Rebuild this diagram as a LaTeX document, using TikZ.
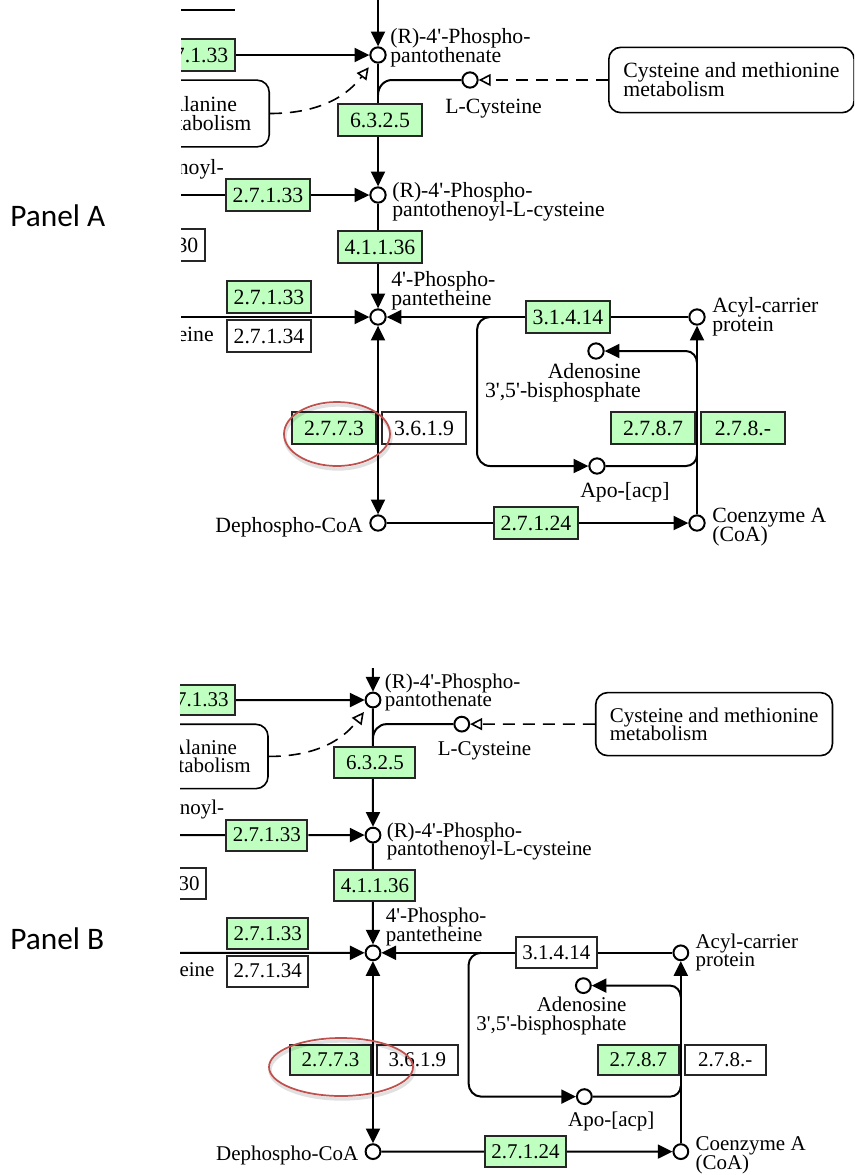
\documentclass[tikz,border=0pt]{standalone}
\usepackage{fontspec}
\setmainfont{Liberation Serif}
\newfontfamily\calib{Carlito}
\usetikzlibrary{arrows.meta,shapes.geometric}
\pgfdeclarelayer{bg}
\pgfsetlayers{bg,main}
\definecolor{kgreen}{RGB}{191,255,191}
\definecolor{kred}{RGB}{192,80,77}
\newcommand\kfont{\fontsize{16.3}{14.25}\selectfont\lineskiplimit=-30pt\lineskip=0pt\relax}
\newcommand\ap{\textquotesingle}
\tikzset{
  ec/.style={draw=black!85, line width=1.5pt, minimum width=63pt, minimum height=24pt, inner sep=0pt, font=\kfont},
  ecg/.style={ec, fill=kgreen},
  ecw/.style={ec, fill=white},
  cpd/.style={circle, draw=black, line width=1.5pt, fill=white, minimum size=11.5pt, inner sep=0pt},
  lbl/.style={font=\kfont, inner sep=0pt, align=left},
  mapbox/.style={draw=black, line width=1.2pt, rounded corners=9pt, fill=white, font=\kfont, align=left, inner sep=0pt},
  conn/.style={line width=1.5pt, draw=black},
  arr/.style={conn, -{Triangle[length=11pt,width=10.5pt]}},
  biarr/.style={conn, {Triangle[length=11pt,width=10.5pt]}-{Triangle[length=11pt,width=10.5pt]}},
  dashline/.style={line width=1.2pt, draw=black, dash pattern=on 9pt off 6pt},
  openarr/.style={dashline, -{Triangle[open,length=9pt,width=9pt,line width=1.2pt]}}
}
% #1 prefix, #2 fill 3.1.4.14, #3 fill 2.7.8.-, #4 clip left, #5 clip top, #6 clip right
\newcommand\drawpanel[6]{%
  \begin{scope}
  \clip (#4,#5) rectangle (#6,600);
  \node[cpd] (#1c1) at (378,55) {};
  \node[cpd] (#1c2) at (378,195) {};
  \node[cpd] (#1c3) at (378,317) {};
  \node[cpd] (#1lcys) at (470,80) {};
  \node[cpd] (#1acp) at (697,317) {};
  \node[cpd] (#1ade) at (596,351) {};
  \node[cpd] (#1apo) at (597,466) {};
  \node[cpd] (#1coa) at (697,523) {};
  \node[cpd] (#1dcoa) at (378,523) {};
  \node[ecg] (#1b1) at (193,55) {2.7.1.33};
  \node[mapbox, minimum width=103pt, minimum height=50pt, anchor=east] (#1alan) at (270,113.5) {β-Alanine\\metabolism};
  \node[ecg] (#1b6325) at (380,120) {6.3.2.5};
  \node[mapbox, anchor=west, minimum width=184pt, minimum height=49pt] (#1cys) at (608,80) {Cysteine and methionine\\metabolism};
  \node[ecg] (#1b2) at (268,195) {2.7.1.33};
  \node[ecw] (#1b30) at (163,245) {2.7.1.30};
  \node[ecg] (#1b4) at (380,247) {4.1.1.36};
  \node[ecg] (#1b5) at (269,297) {2.7.1.33};
  \node[ecw] (#1b6) at (269,336) {2.7.1.34};
  \node[ec, fill=#2] (#1b7) at (568,317) {3.1.4.14};
  \node[ecg] (#1b8) at (653,428) {2.7.8.7};
  \node[ec, fill=#3] (#1b9) at (743,428) {2.7.8.-};
  \node[ecg] (#1b10) at (334,428) {2.7.7.3};
  \node[ecw] (#1b11) at (424,428) {3.6.1.9};
  \node[ecg] (#1b12) at (536,523) {2.7.1.24};
  \node[lbl, anchor=base west] (#1c1l) at (390,62) {(R)-4\ap-Phospho-\\pantothenate};
  \node[lbl, anchor=base west] (#1lcysl) at (445,113) {L-Cysteine};
  \node[lbl, anchor=base west] (#1c2l) at (392,216) {(R)-4\ap-Phospho-\\pantothenoyl-L-cysteine};
  \node[lbl, anchor=base west] (#1c3l) at (391,305) {4\ap-Phospho-\\pantetheine};
  \node[lbl, anchor=base west] (#1acpl) at (712,331) {Acyl-carrier\\protein};
  \node[lbl, anchor=base east, align=right] (#1adel) at (641,397) {Adenosine\\3\ap,5\ap-bisphosphate};
  \node[lbl, anchor=base west] (#1apol) at (580,497) {Apo-[acp]};
  \node[lbl, anchor=base west] (#1coal) at (712,541) {Coenzyme A\\(CoA)};
  \node[lbl, anchor=base east] (#1dcoal) at (363,532) {Dephospho-CoA};
  \node[lbl, anchor=base east] (#1noyl) at (224,174) {Pantothenoyl-};
  \node[lbl, anchor=base east] (#1eine) at (214,341) {Pantetheine};
  \end{scope}
  \begin{pgfonlayer}{bg}
  \begin{scope}
  \clip (#4,#5) rectangle (#6,600);
  \coordinate (#1top) at (378,-30);
  \coordinate (#1tl1) at (100,10);
  \coordinate (#1tl2) at (235,10);
  \coordinate (#1j1) at (378,95);
  \coordinate (#1l2) at (150,195);
  \coordinate (#1l3) at (150,317);
  \coordinate (#1j2) at (697,363);
  \coordinate (#1j3) at (697,455);
  \coordinate (#1j4) at (490,317);
  \draw[conn] (#1tl1) -- (#1tl2);
  \draw[arr] (#1top) -- (#1c1);
  \draw[arr] (#1b1) -- (#1c1);
  \draw[arr] (#1c1) -- (#1c2);
  \draw[conn] (#1lcys) -- (392,80) to[out=180,in=90] (#1j1);
  \draw[openarr] (#1cys) -- (#1lcys);
  \draw[openarr, shorten >=5pt] (#1alan.east) .. controls (325,113.5) and (350,92) .. (#1c1);
  \draw[conn] (#1l2) -- (#1b2);
  \draw[arr] (#1b2) -- (#1c2);
  \draw[arr] (#1c2) -- (#1c3);
  \draw[arr] (#1l3) -- (#1c3);
  \draw[arr] (#1acp) -- (#1c3);
  \draw[biarr] (#1dcoa) -- (#1c3);
  \draw[arr] (#1dcoa) -- (#1coa);
  \draw[arr] (#1coa) -- (#1acp);
  \draw[arr] (#1j2) to[out=90,in=0] (686,351) -- (#1ade);
  \draw[conn] (#1apo) -- (686,466) to[out=0,in=-90] (#1j3);
  \draw[arr] (#1j4) to[out=180,in=90] (477,330) -- (477,452) to[out=-90,in=180] (490,466) -- (#1apo);
  \end{scope}
  \end{pgfonlayer}
}
\begin{document}
\begin{tikzpicture}[x=0.75pt,y=-0.75pt]
\useasboundingbox (0,0) rectangle (854,1175);
\begin{pgfonlayer}{bg}
\fill[white] (0,0) rectangle (854,1175);
\end{pgfonlayer}
\drawpanel{a}{kgreen}{kgreen}{181}{-5}{854}
\begin{scope}[shift={(373,700)}, scale=0.965, shift={(-378,-55)}, transform shape]
\drawpanel{b}{white}{white}{178}{22}{860}
\end{scope}
% red ellipses
\draw[black, opacity=0.12, line width=2.5pt] (338,437) ellipse [x radius=53, y radius=32];
\draw[kred, line width=1.3pt] (337,434) ellipse [x radius=53, y radius=32];
\draw[black, opacity=0.12, line width=2.5pt] (342,1070) ellipse [x radius=72, y radius=29];
\draw[kred, line width=1.3pt] (341,1067) ellipse [x radius=72, y radius=29];
\node[font=\calib\fontsize{23.5}{28}\selectfont, anchor=base west, inner sep=0pt] (pa) at (10,226) {Panel A};
\node[font=\calib\fontsize{23.5}{28}\selectfont, anchor=base west, inner sep=0pt] (pb) at (10,949) {Panel B};
\end{tikzpicture}
\end{document}
